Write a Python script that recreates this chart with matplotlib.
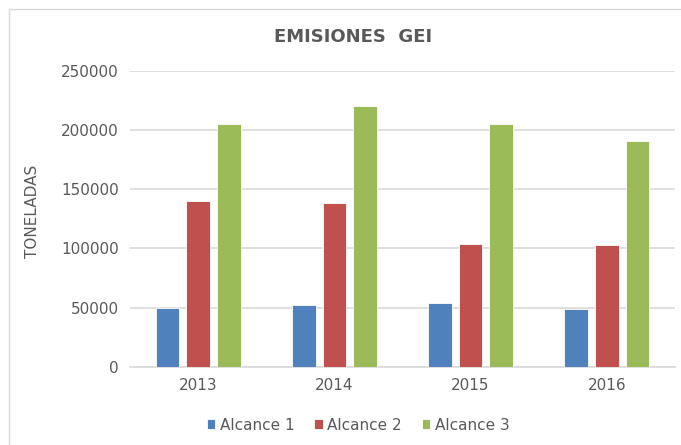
import matplotlib.pyplot as plt
import numpy as np
from matplotlib.patches import Rectangle

years = ["2013", "2014", "2015", "2016"]
series_names = ["Alcance 1", "Alcance 2", "Alcance 3"]
alcance_1 = [49500, 51800, 53500, 48500]
alcance_2 = [140500, 138000, 103400, 102500]
alcance_3 = [205200, 220000, 205200, 190400]
y_ticks = [0, 50000, 100000, 150000, 200000, 250000]

colors = ["#4F81BD", "#C0504D", "#9BBB59"]
text_gray = "#595959"
grid_gray = "#D9D9D9"

plt.rcParams["font.family"] = ["DejaVu Sans"]

fig = plt.figure(figsize=(6.81, 4.45), dpi=100)
ax = fig.add_axes([130 / 681, 78.3 / 445, 545 / 681, 295.7 / 445])

x = np.arange(len(years))
width = 0.173
step = 0.225
for i, (values, name) in enumerate(zip([alcance_1, alcance_2, alcance_3], series_names)):
    ax.bar(x + (i - 1) * step, values, width=width, color=colors[i],
           edgecolor="white", linewidth=0.6, label=name, zorder=3)

ax.set_xlim(-0.5, len(years) - 0.5)
ax.set_ylim(0, 250000)
ax.set_yticks(y_ticks)
ax.set_yticklabels([str(v) for v in y_ticks])
ax.set_xticks(x)
ax.set_xticklabels(years)
ax.tick_params(axis="both", length=0, labelsize=11, labelcolor=text_gray)
ax.tick_params(axis="y", pad=8)
ax.tick_params(axis="x", pad=8)

ax.yaxis.grid(True, color=grid_gray, linewidth=1.2, zorder=0)
for side in ["top", "right", "left"]:
    ax.spines[side].set_visible(False)
ax.spines["bottom"].set_color(grid_gray)
ax.spines["bottom"].set_linewidth(1.2)

ax.set_ylabel("TONELADAS", fontsize=11, color=text_gray)
ax.yaxis.set_label_coords(-90 / 545, (445 - 211 - 78.3) / 295.7)

fig.text(353 / 681, 1 - 37 / 445, "EMISIONES  GEI", ha="center", va="center",
         fontsize=13, fontweight="bold", color=text_gray)

leg = fig.legend(loc="center", bbox_to_anchor=(358 / 681, 1 - 425 / 445), ncol=3,
                 frameon=False, fontsize=11, handlelength=0.55, handleheight=0.55,
                 handletextpad=0.3, columnspacing=1.3)
for t in leg.get_texts():
    t.set_color(text_gray)

# chart frame: only the top and left edges fall inside the canvas
fig.patches.append(Rectangle((9 / 681, -0.05), 1.1, 1 - 9 / 445 + 0.05,
                             transform=fig.transFigure, fill=False,
                             edgecolor="#D9D9D9", linewidth=1.0))

fig.savefig("out.png", dpi=100)
